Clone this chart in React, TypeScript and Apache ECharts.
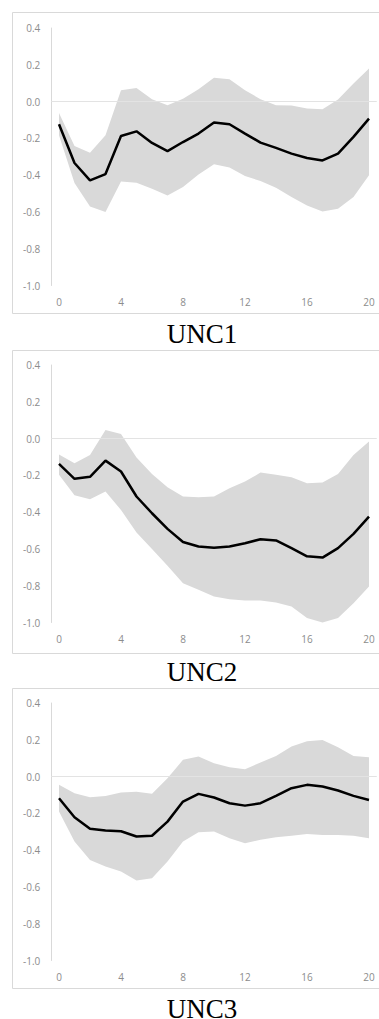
import React, { useEffect, useRef } from "react";
import * as echarts from "echarts";

const horizons = ["0","1","2","3","4","5","6","7","8","9","10","11","12","13","14","15","16","17","18","19","20"];
const yTicks = [-1.0, -0.8, -0.6, -0.4, -0.2, 0.0, 0.2, 0.4];
const titles = ["UNC1", "UNC2", "UNC3"];

const unc1Median = [-0.123,-0.334,-0.428,-0.394,-0.187,-0.162,-0.225,-0.269,-0.22,-0.174,-0.114,-0.123,-0.174,-0.223,-0.252,-0.283,-0.307,-0.32,-0.283,-0.192,-0.093];
const unc1Upper = [-0.062,-0.241,-0.278,-0.183,0.062,0.074,0.013,-0.02,0.016,0.067,0.129,0.122,0.062,0.013,-0.02,-0.022,-0.038,-0.042,0.011,0.098,0.18];
const unc1Lower = [-0.183,-0.443,-0.57,-0.601,-0.434,-0.441,-0.474,-0.51,-0.465,-0.396,-0.341,-0.359,-0.405,-0.432,-0.468,-0.519,-0.565,-0.597,-0.583,-0.519,-0.401];

const unc2Median = [-0.138,-0.219,-0.208,-0.12,-0.179,-0.315,-0.406,-0.491,-0.562,-0.587,-0.594,-0.587,-0.569,-0.547,-0.554,-0.596,-0.64,-0.647,-0.596,-0.518,-0.424];
const unc2Upper = [-0.087,-0.134,-0.089,0.047,0.025,-0.103,-0.192,-0.264,-0.315,-0.319,-0.315,-0.27,-0.234,-0.185,-0.197,-0.21,-0.243,-0.239,-0.192,-0.089,-0.016];
const unc2Lower = [-0.197,-0.308,-0.33,-0.288,-0.388,-0.511,-0.601,-0.692,-0.786,-0.822,-0.859,-0.873,-0.88,-0.88,-0.891,-0.913,-0.976,-1.0,-0.976,-0.895,-0.804];

const unc3Median = [-0.118,-0.221,-0.284,-0.293,-0.297,-0.326,-0.322,-0.245,-0.136,-0.094,-0.114,-0.145,-0.158,-0.145,-0.105,-0.063,-0.045,-0.054,-0.076,-0.105,-0.127];
const unc3Upper = [-0.045,-0.091,-0.112,-0.105,-0.087,-0.083,-0.094,-0.009,0.091,0.109,0.072,0.051,0.04,0.076,0.112,0.163,0.192,0.199,0.159,0.112,0.105];
const unc3Lower = [-0.19,-0.353,-0.453,-0.489,-0.516,-0.565,-0.553,-0.462,-0.353,-0.303,-0.299,-0.335,-0.362,-0.344,-0.33,-0.322,-0.312,-0.317,-0.317,-0.322,-0.335];

const panels = [
  { median: unc1Median, upper: unc1Upper, lower: unc1Lower },
  { median: unc2Median, upper: unc2Upper, lower: unc2Lower },
  { median: unc3Median, upper: unc3Upper, lower: unc3Lower },
];

// layout
const gridTops = [28, 365, 703];
const gridHeight = 257.5;
const frameTops = [12.5, 350.5, 688.5];
const frameBottoms = [313.5, 653.5, 988.5];
const titleCenters = [334, 672, 1009];

const labelFont = "'Open Sans', sans-serif";
const axisGray = "#d9d9d9";
const labelGray = "#8c8c8c";

export default function App() {
  const ref = useRef<HTMLDivElement>(null);
  useEffect(() => {
    if (!ref.current) return;
    const chart = echarts.init(ref.current, null, { renderer: "svg" });
    const grids: any[] = [];
    const xAxes: any[] = [];
    const yAxes: any[] = [];
    const series: any[] = [];
    const graphics: any[] = [];
    panels.forEach((p, k) => {
      grids.push({ left: 51.25, width: 325.5, top: gridTops[k], height: gridHeight, containLabel: false });
      xAxes.push({
        type: "category",
        gridIndex: k,
        data: horizons,
        boundaryGap: true,
        axisLine: { show: false, onZero: false },
        axisTick: { show: false },
        axisLabel: { interval: 3, color: labelGray, fontSize: 10, fontFamily: labelFont, margin: 11 },
        splitLine: { show: false },
      });
      yAxes.push({
        type: "value",
        gridIndex: k,
        min: yTicks[0],
        max: yTicks[yTicks.length - 1],
        interval: 0.2,
        axisLine: { show: true, lineStyle: { color: axisGray, width: 1 } },
        axisTick: { show: false },
        splitLine: { show: false },
        axisLabel: {
          color: labelGray,
          fontSize: 10,
          fontFamily: labelFont,
          margin: 11,
          formatter: (v: number) => v.toFixed(1),
        },
      });
      const diff = p.upper.map((u, i) => +(u - p.lower[i]).toFixed(4));
      series.push({
        type: "line",
        xAxisIndex: k,
        yAxisIndex: k,
        data: p.lower,
        stack: "band" + k,
        stackStrategy: "all",
        symbol: "none",
        lineStyle: { opacity: 0 },
        silent: true,
        z: 1,
        markLine: {
          silent: true,
          symbol: "none",
          label: { show: false },
          lineStyle: { color: "#e3e3e3", type: "solid", width: 1 },
          data: [{ yAxis: 0 }],
        },
      });
      series.push({
        type: "line",
        xAxisIndex: k,
        yAxisIndex: k,
        data: diff,
        stack: "band" + k,
        stackStrategy: "all",
        symbol: "none",
        lineStyle: { opacity: 0 },
        areaStyle: { color: "#d9d9d9", opacity: 1 },
        silent: true,
        z: 2,
      });
      series.push({
        type: "line",
        xAxisIndex: k,
        yAxisIndex: k,
        data: p.median,
        symbol: "none",
        lineStyle: { color: "#000000", width: 2.5 },
        z: 3,
      });
      graphics.push({
        type: "rect",
        shape: { x: 12.5, y: frameTops[k], width: 400, height: frameBottoms[k] - frameTops[k] },
        style: { fill: "none", stroke: axisGray, lineWidth: 1 },
        silent: true,
        z: 0,
      });
      graphics.push({
        type: "text",
        x: 202,
        y: titleCenters[k],
        style: {
          text: titles[k],
          font: "27px 'Liberation Serif', serif",
          lineHeight: 19,
          fill: "#000000",
          textAlign: "center",
          textVerticalAlign: "middle",
        },
      });
    });
    chart.setOption({
      animation: false,
      backgroundColor: "#ffffff",
      grid: grids,
      xAxis: xAxes,
      yAxis: yAxes,
      series,
      graphic: graphics,
    });
    return () => chart.dispose();
  }, []);
  return (
    <div
      ref={ref}
      style={{ position: "absolute", left: 0, top: 0, width: 379, height: 1019 }}
    />
  );
}
